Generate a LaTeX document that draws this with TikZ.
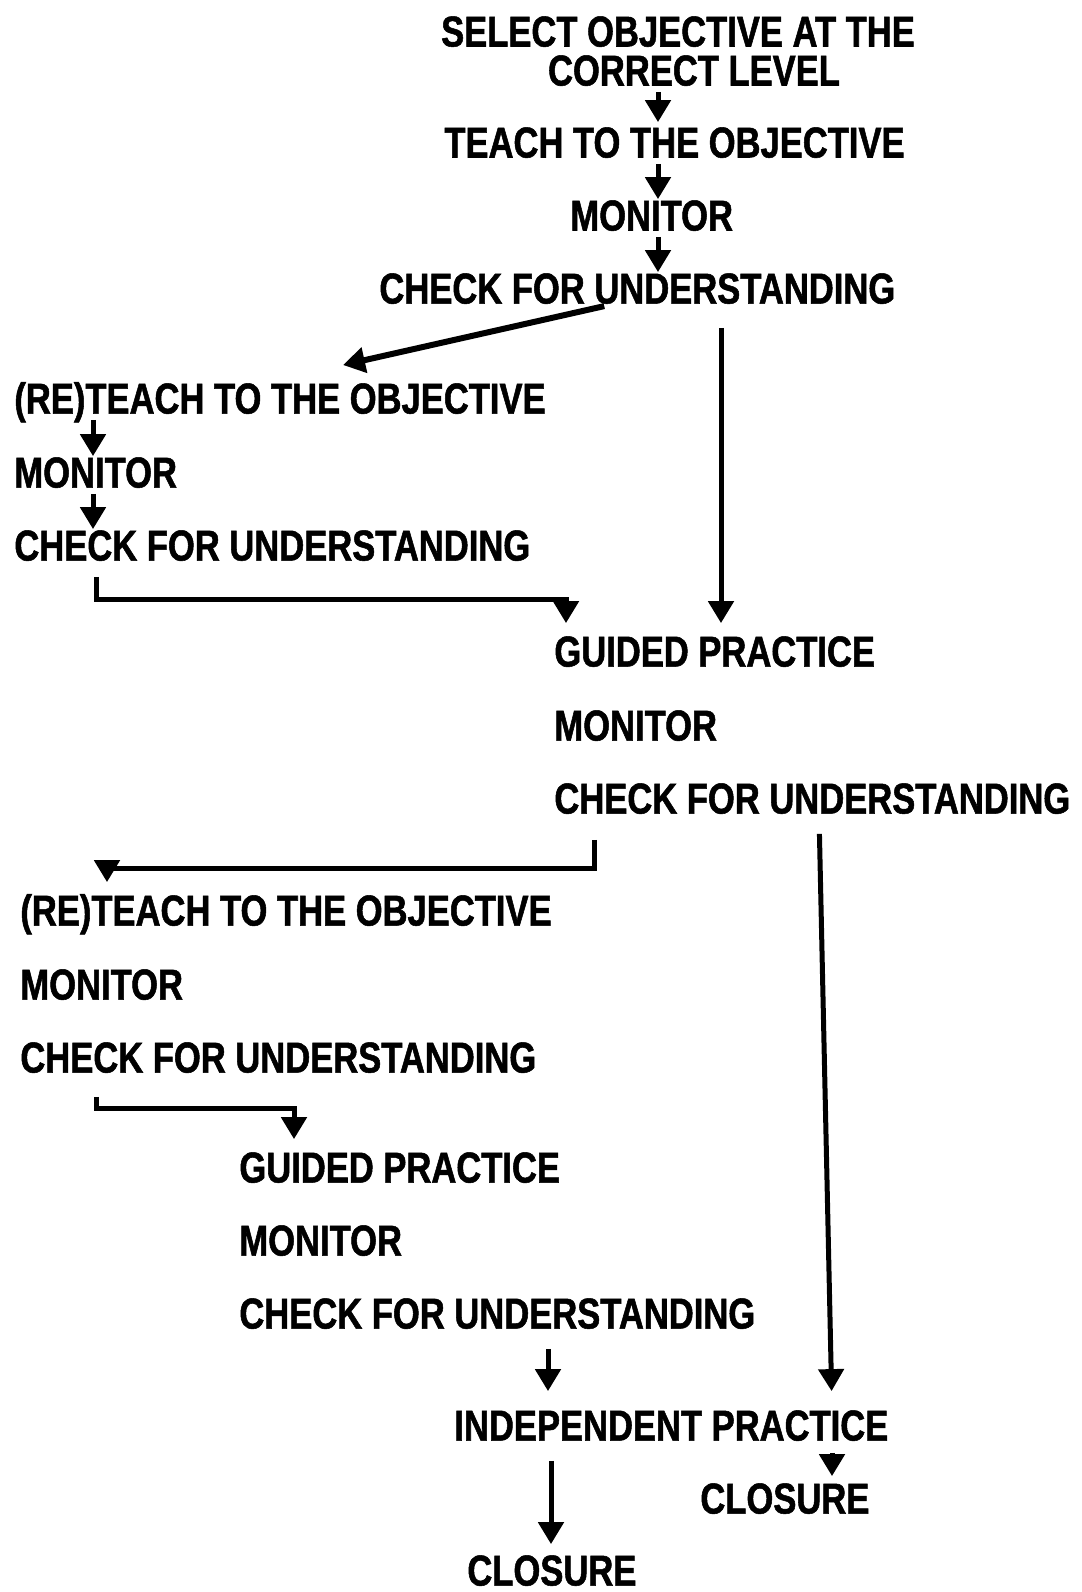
\documentclass[tikz,border=0pt]{standalone}
\usepackage{fontspec}
\usepackage{tikz}
\usetikzlibrary{arrows.meta}
\usetikzlibrary{positioning}
\newfontfamily\flowfont{Liberation Sans}[FakeStretch=0.80, FakeBold=1.2]
\tikzset{stage/.style = {anchor = west, inner sep = 0, text height = 15.5pt, text depth = 0pt,
    font = \flowfont\bfseries\fontsize{21.6}{18}\selectfont}}
\tikzset{flow/.style = {line width = 2.5pt, -{Triangle[length = 11pt, width = 12.5pt]}}}

\begin{document}
\begin{tikzpicture}[x=0.5pt, y=-0.5pt]
    \useasboundingbox (0, 0) rectangle (1082, 1592);
    % opening sequence
    \node [stage, anchor = center] (sel) at (678, 31) {SELECT OBJECTIVE AT THE};
    \node [stage, anchor = center] (level) at (694, 70) {CORRECT LEVEL};
    \node [stage] (teach) at (444, 142) {TEACH TO THE OBJECTIVE};
    \node [stage] (mon0) at (570, 215) {MONITOR};
    \node [stage] (check0) at (379, 288) {CHECK FOR UNDERSTANDING};
    % first reteach loop
    \node [stage] (reteach1) at (14, 398) {(RE)TEACH TO THE OBJECTIVE};
    \node [stage] (mon1) at (14, 472) {MONITOR};
    \node [stage] (check1) at (14, 545) {CHECK FOR UNDERSTANDING};
    % guided practice
    \node [stage] (guided1) at (554, 651) {GUIDED PRACTICE};
    \node [stage] (mon2) at (554, 725) {MONITOR};
    \node [stage] (check2) at (554, 798) {CHECK FOR UNDERSTANDING};
    % second reteach loop
    \node [stage] (reteach2) at (20, 910) {(RE)TEACH TO THE OBJECTIVE};
    \node [stage] (mon3) at (20, 984) {MONITOR};
    \node [stage] (check3) at (20, 1057) {CHECK FOR UNDERSTANDING};
    \node [stage] (guided2) at (239, 1167) {GUIDED PRACTICE};
    \node [stage] (mon4) at (239, 1240) {MONITOR};
    \node [stage] (check4) at (239, 1313) {CHECK FOR UNDERSTANDING};
    % end
    \node [stage] (indep) at (454, 1425) {INDEPENDENT PRACTICE};
    \node [stage] (closure1) at (700, 1498) {CLOSURE};
    \node [stage] (closure2) at (467, 1570) {CLOSURE};
    \coordinate (retip) at (343, 365);

    \draw [flow, shorten <= 3pt, shorten >= 2pt] (658,0 |- level.south) -- (658,0 |- teach.north);
    \draw [flow, shorten <= 3pt] (658,0 |- teach.south) -- (658,0 |- mon0.north);
    \draw [flow, shorten <= 3pt] (658,0 |- mon0.south) -- (658,0 |- check0.north);
    \draw [flow, line width = 3pt, shorten <= 5pt] (614,0 |- check0.south) -- (retip);
    \draw [flow, shorten <= 12pt, shorten >= 6pt] (721,0 |- check0.south) -- (721,0 |- guided1.north);
    \draw [flow, shorten <= 3pt] (93,0 |- reteach1.south) -- (93,0 |- mon1.north);
    \draw [flow, shorten <= 3pt] (93,0 |- mon1.south) -- (93,0 |- check1.north);
    \draw [flow, shorten <= 8pt, shorten >= 6pt] (96,0 |- check1.south) -- (96, 599) -- (566, 599)
      -- (566,0 |- guided1.north);
    \draw [flow, shorten <= 13pt, shorten >= 6pt] (594,0 |- check2.south) -- (594, 868) -- (107, 868)
      -- (107,0 |- reteach2.north);
    \draw [flow, shorten <= 10pt, shorten >= 9pt] (819,0 |- check2.south) -- (832,0 |- indep.north);
    \draw [flow, shorten <= 12pt, shorten >= 6pt] (96,0 |- check3.south) -- (96, 1108) -- (294, 1108)
      -- (294,0 |- guided2.north);
    \draw [flow, shorten <= 10pt, shorten >= 9pt] (548,0 |- check4.south) -- (548,0 |- indep.north);
    \draw [flow, shorten <= 6pt, shorten >= 3pt] (832,0 |- indep.south) -- (832,0 |- closure1.north);
    \draw [flow, shorten <= 10pt, shorten >= 5pt] (551,0 |- indep.south) -- (551,0 |- closure2.north);
  \end{tikzpicture}
\end{document}
